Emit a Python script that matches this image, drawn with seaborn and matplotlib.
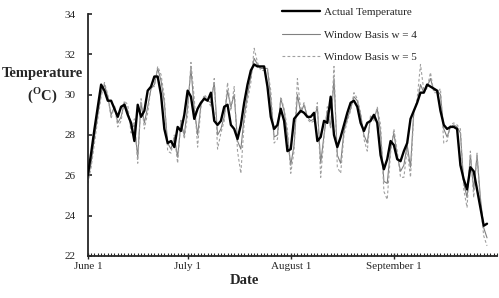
import numpy as np
import pandas as pd
import matplotlib
matplotlib.use("Agg")
import matplotlib.pyplot as plt
import matplotlib.dates as mdates
import seaborn as sns

# daily values, June 1 onward (deg C)
actual = [26.0, 27.1, 28.3, 29.4, 30.5, 30.2, 29.7, 29.7, 29.3, 28.9,
          29.4, 29.5, 29.0, 28.6, 27.7, 29.5, 28.9, 29.2, 30.2, 30.4,
          30.9, 30.9, 30.0, 28.3, 27.6, 27.7, 27.4, 28.4, 28.2, 29.0,
          30.2, 29.9, 28.8, 29.3, 29.6, 29.8, 29.7, 30.1, 28.7, 28.5,
          28.7, 29.4, 29.5, 28.5, 28.3, 27.8, 28.5, 29.6, 30.5, 31.2,
          31.5, 31.4, 31.4, 31.4, 30.4, 28.9, 28.3, 28.5, 29.3, 28.7,
          27.2, 27.3, 28.8, 29.0, 29.2, 29.1, 28.9, 28.9, 29.1, 27.7,
          27.9, 28.7, 28.6, 29.9, 28.0, 27.4, 27.9, 28.5, 29.1, 29.6,
          29.7, 29.4, 28.6, 28.2, 28.6, 28.7, 29.0, 28.6, 27.0, 26.3,
          26.8, 27.7, 27.5, 26.8, 26.7, 27.2, 27.6, 28.8, 29.2, 29.6,
          30.1, 30.1, 30.5, 30.4, 30.3, 30.2, 29.2, 28.5, 28.3, 28.4,
          28.4, 28.3, 26.5, 25.8, 25.3, 26.4, 26.2, 25.3, 24.4, 23.5,
          23.6]
window_w4 = [25.8, 26.6, 27.9, 29.0, 30.1, 30.5, 29.9, 29.0, 29.4, 28.6,
             28.9, 29.6, 29.2, 28.3, 28.5, 26.9, 29.6, 28.6, 29.4, 30.3,
             30.5, 31.3, 30.7, 29.6, 27.6, 27.3, 27.9, 26.9, 28.6, 28.0,
             29.4, 31.3, 29.3, 28.0, 29.5, 29.9, 29.7, 29.6, 30.6, 28.0,
             28.3, 28.9, 30.2, 29.4, 30.0, 27.7, 27.3, 28.9, 30.0, 30.9,
             31.8, 31.5, 31.3, 31.3, 31.3, 29.8, 27.9, 28.0, 29.8, 29.2,
             28.0, 26.5, 27.5, 30.0, 29.1, 29.5, 28.9, 28.7, 28.8, 29.4,
             26.6, 28.0, 29.2, 28.4, 30.8, 27.0, 26.6, 28.2, 28.8, 29.3,
             29.9, 29.7, 29.0, 28.0, 27.6, 28.9, 28.8, 29.3, 28.1, 25.7,
             25.6, 27.3, 28.1, 27.0, 26.2, 26.5, 27.5, 26.4, 29.2, 29.6,
             30.5, 30.1, 30.4, 30.8, 30.2, 30.2, 30.0, 28.3, 27.9, 28.4,
             28.5, 28.4, 28.1, 25.6, 24.9, 27.0, 25.3, 27.0, 24.9, 23.4,
             22.9]
window_w5 = [25.6, 26.4, 27.6, 28.8, 29.9, 30.6, 30.0, 28.8, 29.5, 28.4,
             28.7, 29.7, 29.5, 28.1, 28.8, 26.6, 29.8, 28.3, 29.1, 30.4,
             30.4, 31.4, 31.0, 29.9, 27.2, 27.1, 28.0, 26.6, 28.8, 27.8,
             29.0, 31.6, 29.8, 27.4, 29.4, 30.0, 29.8, 29.4, 30.8, 27.3,
             28.1, 28.7, 30.6, 29.2, 30.4, 27.2, 26.1, 28.6, 29.7, 30.6,
             32.3, 31.6, 31.2, 31.2, 31.3, 30.2, 27.6, 27.8, 29.9, 29.3,
             28.3, 26.1, 27.2, 30.8, 29.2, 29.6, 28.8, 28.6, 28.7, 29.6,
             25.9, 27.9, 29.4, 28.3, 31.4, 26.4, 26.1, 28.0, 28.7, 29.2,
             30.1, 29.8, 29.1, 27.8, 27.2, 29.0, 28.7, 29.4, 28.5, 25.2,
             24.8, 27.1, 28.3, 27.2, 25.9, 25.9, 27.3, 25.9, 29.1, 29.8,
             31.5, 30.2, 30.3, 31.1, 30.1, 30.1, 30.3, 27.6, 27.7, 28.5,
             28.6, 28.5, 28.3, 25.3, 24.4, 27.2, 24.9, 27.1, 24.6, 23.0,
             22.5]
dates = pd.date_range("2000-06-01", periods=len(actual), freq="D")
tick_dates = pd.to_datetime(["2000-06-01", "2000-07-01", "2000-08-01", "2000-09-01"])
tick_labels = ["June 1", "July 1", "August 1", "September 1"]
y_ticks = [22, 24, 26, 28, 30, 32, 34]

df = pd.DataFrame({"date": dates, "actual": actual, "w4": window_w4, "w5": window_w5})

sns.set_style("ticks")
plt.rcParams["font.family"] = ["Liberation Serif", "DejaVu Serif"]
plt.rcParams["mathtext.fontset"] = "custom"
plt.rcParams["mathtext.bf"] = "Liberation Serif:bold"
plt.rcParams["mathtext.rm"] = "Liberation Serif"

fig = plt.figure(figsize=(4.99, 2.98), dpi=100)
ax = fig.add_axes([0.176, 0.141, 0.82, 0.812])

sns.lineplot(data=df, x="date", y="actual", color="black", lw=1.7, ax=ax,
             label="Actual Temperature", zorder=3)
sns.lineplot(data=df, x="date", y="w4", color="#808080", lw=0.8, ax=ax,
             label="Window Basis w = 4", zorder=2)
sns.lineplot(data=df, x="date", y="w5", color="#a0a0a0", lw=0.8, ax=ax,
             linestyle=(0, (2.5, 2)), label="Window Basis w = 5", zorder=2)

ax.set_ylim(22, 34)
ax.set_yticks(y_ticks)
ax.set_xlim(pd.Timestamp("2000-06-01"), pd.Timestamp("2000-10-02"))
ax.set_xticks(tick_dates)
ax.set_xticklabels(tick_labels)
ax.xaxis.set_minor_locator(mdates.DayLocator())
ax.set_xlabel("")
ax.set_ylabel("")

sns.despine(ax=ax)
for s in ["left", "bottom"]:
    ax.spines[s].set_linewidth(1.3)
ax.tick_params(axis="y", direction="in", length=3, width=1.2, pad=9, labelsize=8)
ax.tick_params(axis="x", which="major", direction="inout", length=4, width=1.0, pad=2, labelsize=8)
ax.tick_params(axis="x", which="minor", direction="in", length=2.5, width=0.8)

fig.text(0.084, 0.755, "Temperature", ha="center", va="center", fontsize=10.5, fontweight="bold")
fig.text(0.084, 0.68, r"($^{\mathbf{O}}$C)", ha="center", va="center", fontsize=10.5, fontweight="bold")
fig.text(0.49, 0.06, "Date", ha="center", va="center", fontsize=10.5, fontweight="bold")

ax.legend(loc="upper left", bbox_to_anchor=(0.557, 0.99), bbox_transform=fig.transFigure,
          frameon=False, fontsize=8, handlelength=3.4, handletextpad=0.35, labelspacing=1.13,
          borderaxespad=0)

plt.savefig("out.png", dpi=100)
plt.close("all")
